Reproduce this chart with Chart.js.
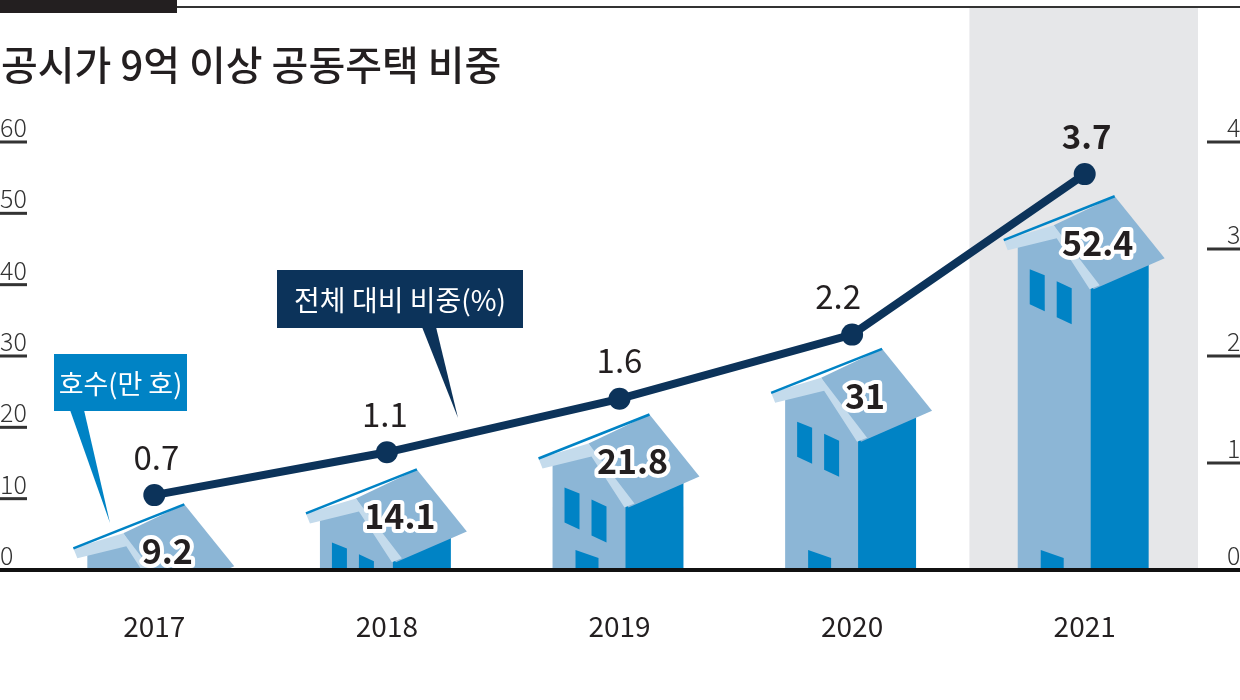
<!DOCTYPE html>
<html>
<head>
<meta charset="utf-8">
<script src="https://cdn.jsdelivr.net/npm/chart.js@4.4.1/dist/chart.umd.min.js"></script>
<style>
  html, body { margin: 0; padding: 0; background: #fff; }
</style>
</head>
<body>
<canvas id="chart" width="1240" height="700"></canvas>
<script>
const years = ["2017", "2018", "2019", "2020", "2021"];
const households = [9.2, 14.1, 21.8, 31, 52.4]; // 만 호
const shareOfTotal = [0.7, 1.1, 1.6, 2.2, 3.7]; // %
const leftTicks = [0, 10, 20, 30, 40, 50, 60];
const rightTicks = [0, 1, 2, 3, 4];
const titleText = "공시가 9억 이상 공동주택 비중";
const houseLegend = "호수(만 호)";
const shareLegend = "전체 대비 비중(%)";

const KR = '"Noto Sans CJK KR", "Noto Sans", sans-serif';
const NAVY = "#0c335a";
const SIDE = "#0083c5";
const FRONT = "#8cb6d6";
const LIGHT = "#c4dbec";
const INK = "#231f20";

const poly = function (ctx, pts, color) {
  ctx.beginPath();
  ctx.moveTo(pts[0][0], pts[0][1]);
  for (let k = 1; k < pts.length; k++) ctx.lineTo(pts[k][0], pts[k][1]);
  ctx.closePath();
  ctx.fillStyle = color;
  ctx.fill();
};

// house shape, peak of the roof sits on the bar value
const drawHouse = function (ctx, cx, top, base, s) {
  const X = (d) => cx + d * s;
  const Y = (d) => top + d * s;
  const low = base + 20;
  poly(ctx, [[X(3), Y(92)], [X(64), Y(66)], [X(64), low], [X(3), low]], SIDE);
  poly(ctx, [[X(-67), Y(50)], [X(-31), Y(36)], [X(6), Y(92)], [X(6), low], [X(-67), low]], FRONT);
  // windows
  poly(ctx, [[X(-55), Y(73)], [X(-40), Y(79)], [X(-40), Y(115)], [X(-55), Y(108)]], SIDE);
  poly(ctx, [[X(-28), Y(85)], [X(-13), Y(92)], [X(-13), Y(128)], [X(-28), Y(121)]], SIDE);
  // door
  if (base - top > 130) {
    poly(ctx, [[X(-44), base - 20], [X(-21), base - 12], [X(-21), low], [X(-44), low]], SIDE);
  }
  // roof
  poly(ctx, [[X(-31), Y(29)], [X(30), Y(0)], [X(80), Y(62)], [X(9), Y(93)]], FRONT);
  poly(ctx, [[X(-81), Y(44)], [X(-31), Y(29)], [X(15), Y(89)], [X(5), Y(93)], [X(-28), Y(42)], [X(-77), Y(54)]], LIGHT);
  ctx.beginPath();
  ctx.moveTo(X(-81), Y(44));
  ctx.lineTo(X(30), Y(0));
  ctx.strokeStyle = SIDE;
  ctx.lineWidth = 2.5;
  ctx.stroke();
};

const callout = function (ctx, box, tip, color, text, size) {
  poly(ctx, [[box[0], box[1]], [box[2], box[1]], [box[2], box[3]], [box[0], box[3]]], color);
  poly(ctx, [[tip[0], box[3] - 1], [tip[1], box[3] - 1], [tip[2], tip[3]]], color);
  ctx.fillStyle = "#fff";
  ctx.font = "400 " + size + "px " + KR;
  ctx.textAlign = "center";
  ctx.textBaseline = "middle";
  ctx.fillText(text, (box[0] + box[2]) / 2, (box[1] + box[3]) / 2 + 1);
};

const housePlugin = {
  id: "houses",
  beforeDraw(chart) {
    const ctx = chart.ctx;
    ctx.save();
    ctx.fillStyle = "#fff";
    ctx.fillRect(0, 0, chart.width, chart.height);
    // top rule
    ctx.fillStyle = INK;
    ctx.fillRect(0, 0, 177, 13);
    ctx.fillStyle = "#333";
    ctx.fillRect(177, 6, chart.width - 177, 2);
    // title
    ctx.fillStyle = INK;
    ctx.font = "500 40px " + KR;
    ctx.textAlign = "left";
    ctx.textBaseline = "middle";
    ctx.fillText(titleText, 1, 65);
    ctx.restore();
  },
  beforeDatasetsDraw(chart) {
    const ctx = chart.ctx;
    const xs = chart.scales.x;
    const ys = chart.scales.y;
    const ys1 = chart.scales.y1;
    const area = chart.chartArea;
    const base = ys.getPixelForValue(0);
    const cat = (area.right - area.left) / years.length;
    ctx.save();
    // highlight latest year
    const last = xs.getPixelForTick(years.length - 1);
    ctx.fillStyle = "#e6e7e9";
    ctx.fillRect(last - cat / 2 + 1, 8, cat - 4, base - 8);

    // houses from the bar elements
    ctx.save();
    ctx.beginPath();
    ctx.rect(0, 0, chart.width, base);
    ctx.clip();
    chart.getDatasetMeta(0).data.forEach((el) => {
      drawHouse(ctx, el.x, el.y, el.base, el.width / 128);
    });
    ctx.restore();

    // baseline
    ctx.fillStyle = "#111";
    ctx.fillRect(0, base - 2, chart.width, 4);

    // axis ticks
    ctx.font = "300 25px " + KR;
    ctx.textBaseline = "alphabetic";
    ctx.fillStyle = "#333";
    leftTicks.forEach((t) => {
      const y = ys.getPixelForValue(t);
      ctx.textAlign = "left";
      ctx.fillText(String(t), 0, y - 5);
      if (t > 0) ctx.fillRect(0, y - 1.5, 27, 3);
    });
    rightTicks.forEach((t) => {
      const y = ys1.getPixelForValue(t);
      ctx.textAlign = "left";
      ctx.fillText(String(t), 1227, y - 5);
      if (t > 0) ctx.fillRect(1207, y - 1.5, 33, 3);
    });
    ctx.restore();
  },
  afterDatasetsDraw(chart) {
    const ctx = chart.ctx;
    ctx.save();
    ctx.textAlign = "center";
    ctx.textBaseline = "middle";
    ctx.lineJoin = "round";
    // house values
    chart.getDatasetMeta(0).data.forEach((el, i) => {
      const s = el.width / 128;
      const x = el.x + 13 * s;
      const y = el.y + 47 * s;
      ctx.font = "700 34px " + KR;
      ctx.lineWidth = 8;
      ctx.strokeStyle = "#fff";
      ctx.strokeText(String(households[i]), x, y);
      ctx.fillStyle = INK;
      ctx.fillText(String(households[i]), x, y);
    });
    // share values
    const nudge = [2, -2, 0, -14, 2];
    chart.getDatasetMeta(1).data.forEach((pt, i) => {
      const last = i === shareOfTotal.length - 1;
      ctx.font = (last ? "700 " : "400 ") + "33px " + KR;
      ctx.fillStyle = INK;
      ctx.fillText(shareOfTotal[i].toFixed(1), pt.x + nudge[i], pt.y - 38);
    });
    callout(ctx, [54, 354, 187, 411], [70, 84, 110, 523], SIDE, houseLegend, 27);
    callout(ctx, [277, 270, 523, 328], [422, 436, 458, 418], NAVY, shareLegend, 28);
    ctx.restore();
  },
};

const data = {
  labels: years,
  datasets: [
    {
      type: "bar",
      label: "호수(만 호)",
      data: households,
      yAxisID: "y",
      backgroundColor: "rgba(0,0,0,0)",
      categoryPercentage: 1,
      barPercentage: 0.55,
      order: 2,
    },
    {
      type: "line",
      label: "전체 대비 비중(%)",
      data: shareOfTotal,
      yAxisID: "y1",
      borderColor: NAVY,
      borderWidth: 8,
      pointRadius: 11,
      pointBackgroundColor: NAVY,
      pointBorderWidth: 0,
      tension: 0,
      order: 1,
    },
  ],
};

const config = {
  type: "bar",
  data: data,
  options: {
    responsive: false,
    animation: false,
    devicePixelRatio: 1,
    layout: { padding: { top: 142, left: 38, right: 39, bottom: 53 } },
    plugins: { legend: { display: false }, tooltip: { enabled: false } },
    scales: {
      x: {
        grid: { display: false, drawTicks: false },
        border: { display: false },
        ticks: { color: INK, padding: 40, font: { family: KR, size: 28 } },
        afterFit(scale) { scale.height = 77; },
      },
      y: { display: false, min: 0, max: 60 },
      y1: { display: false, min: 0, max: 4, position: "right" },
    },
  },
  plugins: [housePlugin],
};

const chart = new Chart(document.getElementById("chart").getContext("2d"), config);
</script>
</body>
</html>
